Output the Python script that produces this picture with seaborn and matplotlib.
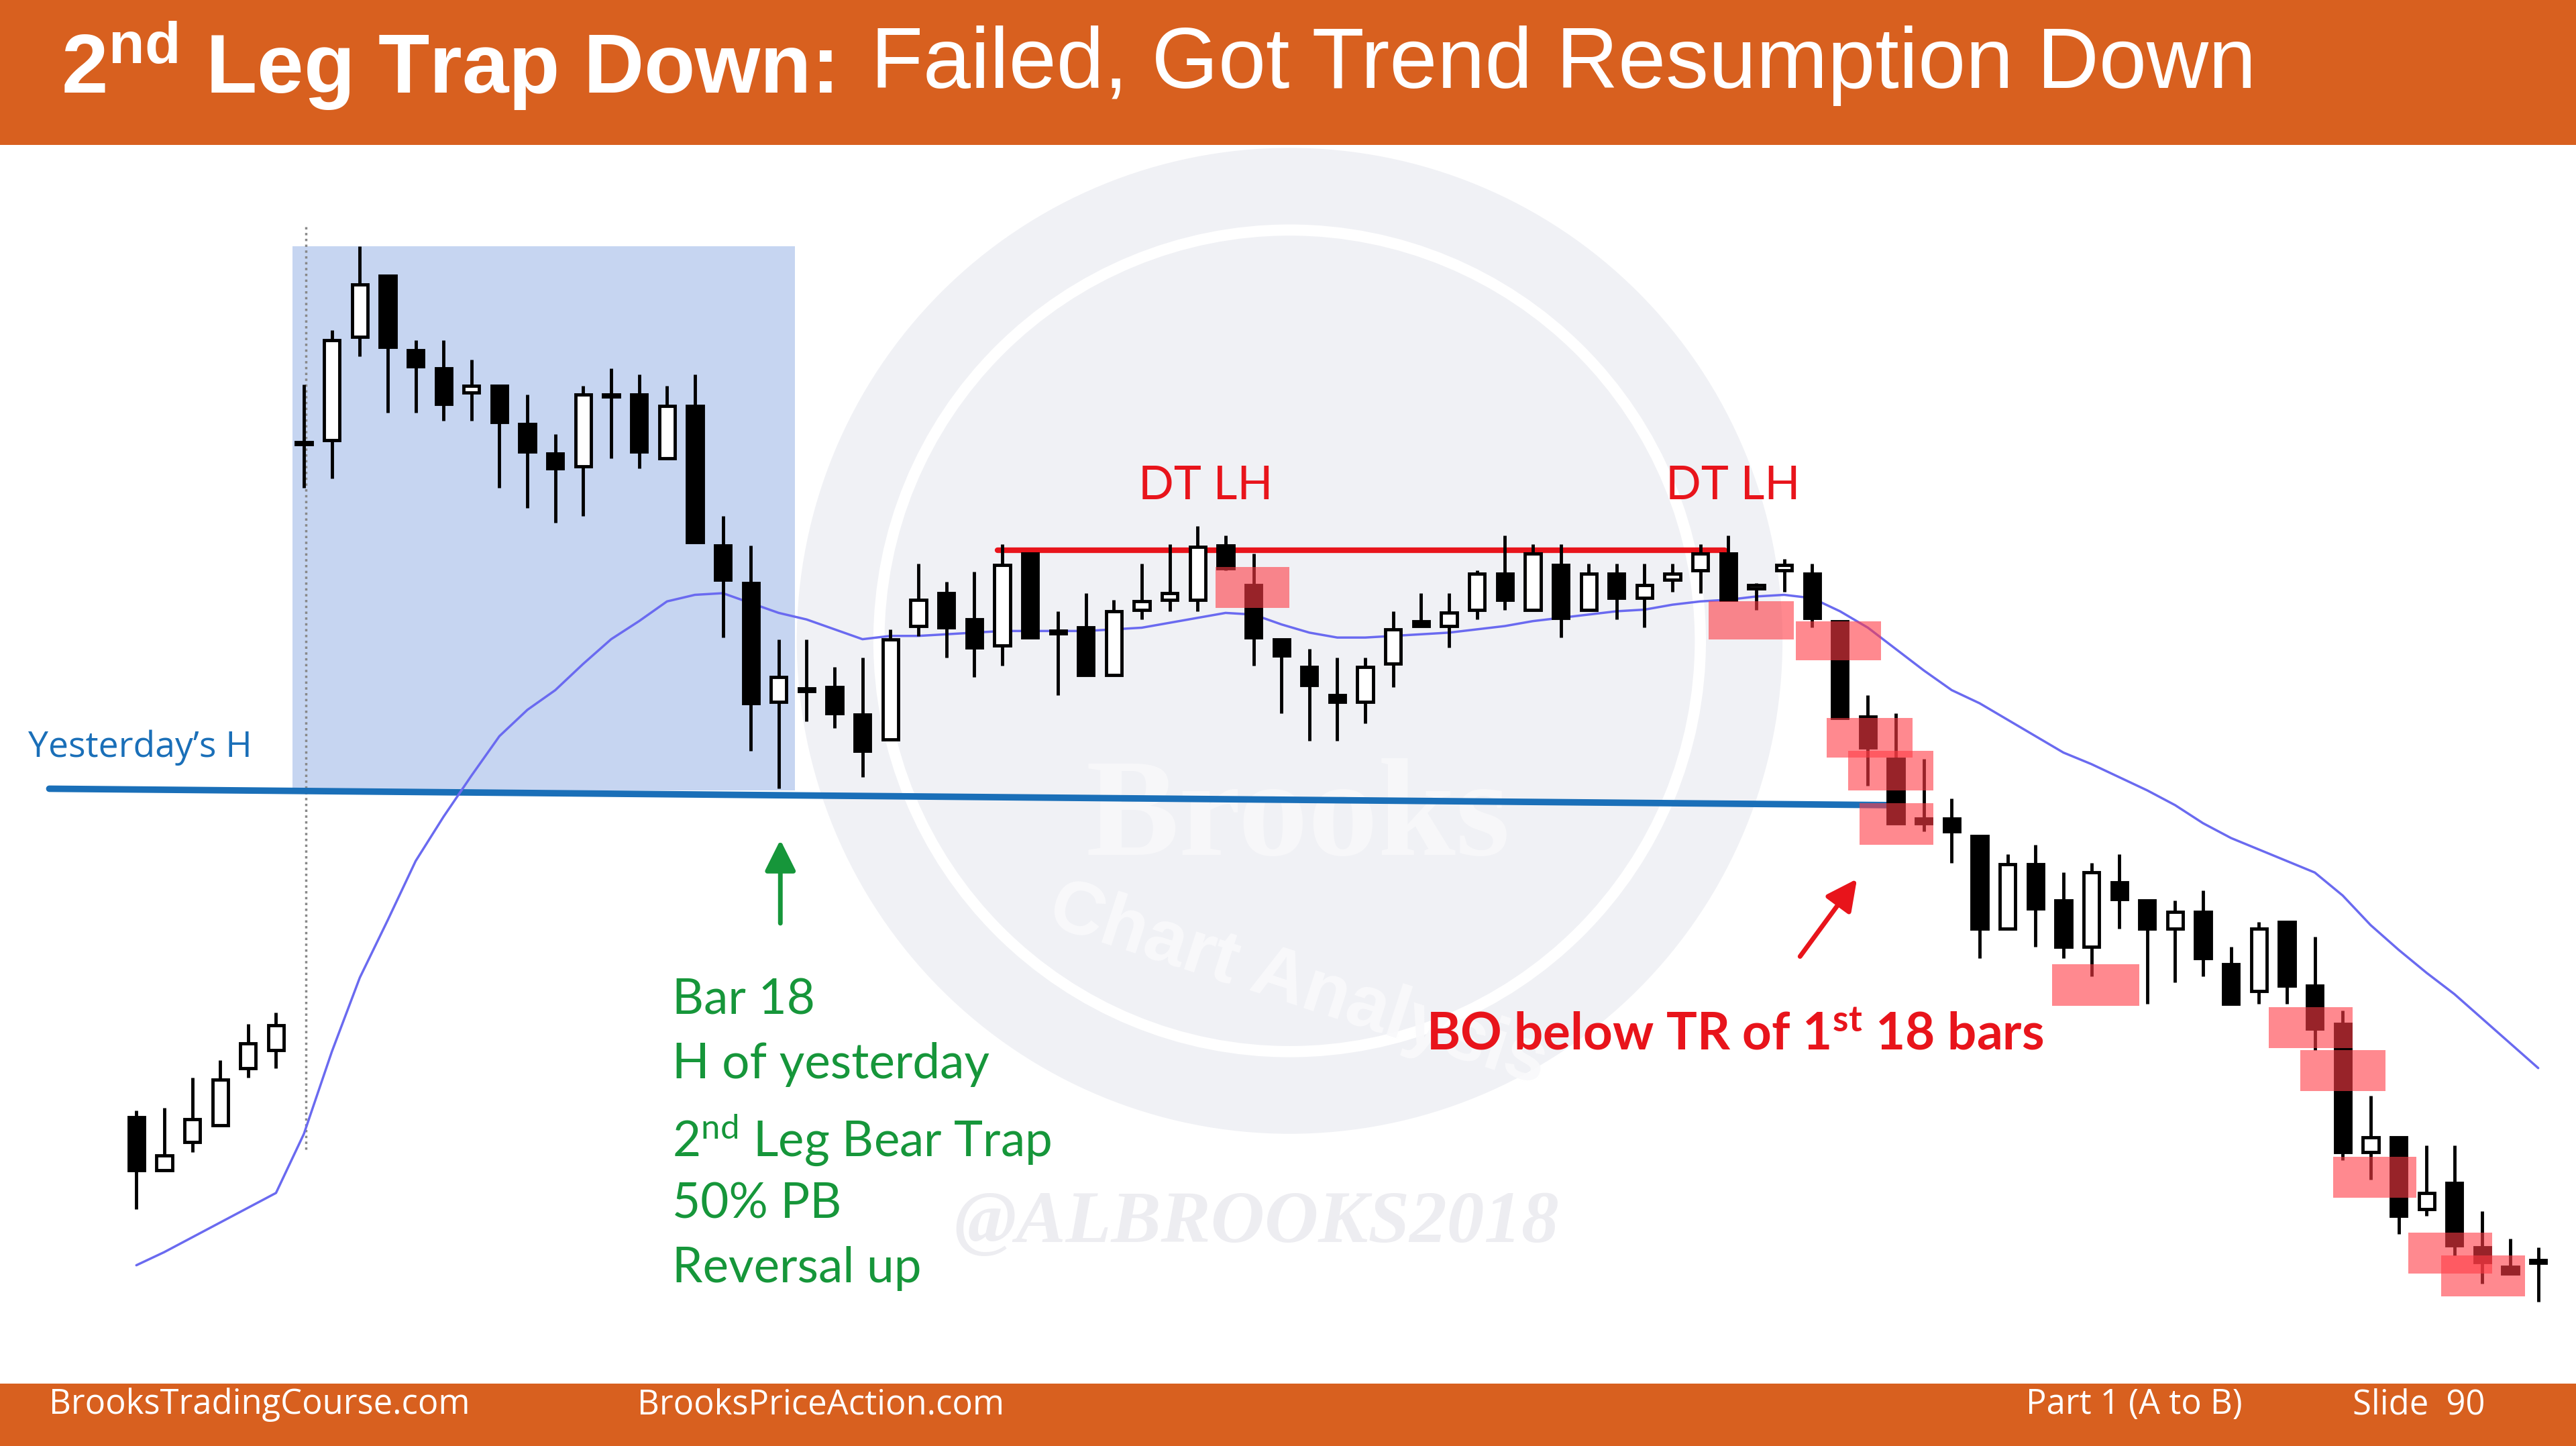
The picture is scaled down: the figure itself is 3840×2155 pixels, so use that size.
import numpy as np
import pandas as pd
import matplotlib
matplotlib.use("Agg")
import matplotlib.pyplot as plt
from matplotlib.patches import Rectangle, Circle, FancyArrowPatch
import seaborn as sns

sns.set_theme(style="white")
plt.rcParams['font.family'] = ['Liberation Sans', 'DejaVu Sans']
plt.rcParams['mathtext.fontset'] = 'custom'
plt.rcParams['mathtext.rm'] = 'Lato'
plt.rcParams['mathtext.bf'] = 'Liberation Sans:bold'
plt.rcParams['mathtext.it'] = 'Lato:bold'

# ---- data (price in chart units, axis inverted: smaller = higher) ----
bar_index = list(range(-6, 81))
opens = [680, 712, 695, 685, 650, 639,
         269, 268, 205, 168, 213, 224, 239, 235, 258, 276, 284, 240, 240, 279, 247, 332, 355, 427,
         419, 418, 435, 450, 381, 361, 377, 393, 337, 384, 382, 411, 371, 365, 365, 332, 356, 389, 406, 423,
         427, 404, 378, 381, 371, 349, 371, 344, 371, 349, 364, 353, 347, 337, 358, 347, 349, 378, 436, 462,
         498, 498, 509, 565, 526, 548, 576, 537, 548, 565, 555, 587, 603, 561, 600, 623, 701, 692, 736, 720,
         759, 771, 767]
closes = [712, 703, 681, 657, 635, 624,
          269, 207, 173, 211, 223, 246, 235, 257, 275, 285, 240, 240, 275, 247, 330, 353, 428, 412,
          419, 434, 457, 389, 365, 382, 394, 344, 388, 384, 411, 372, 366, 361, 333, 346, 388, 399, 417, 427,
          406, 383, 381, 373, 349, 365, 337, 376, 349, 364, 356, 349, 337, 365, 356, 344, 376, 437, 455, 501,
          501, 506, 565, 526, 553, 576, 531, 547, 565, 555, 583, 611, 565, 600, 626, 701, 692, 740, 726, 758,
          768, 775, 767]
highs = [676, 674, 656, 645, 623, 616,
         234, 201, 150, 168, 207, 207, 219, 235, 240, 264, 235, 224, 228, 235, 228, 314, 332, 389,
         389, 406, 400, 383, 343, 354, 348, 331, 337, 372, 361, 365, 343, 331, 320, 326, 337, 389, 395, 400,
         400, 372, 361, 361, 347, 326, 331, 331, 343, 343, 343, 343, 331, 326, 355, 340, 343, 378, 423, 434,
         462, 486, 509, 520, 514, 531, 525, 520, 548, 548, 542, 576, 561, 561, 570, 615, 667, 692, 697, 697,
         737, 754, 759]
lows = [736, 712, 701, 685, 656, 650,
        297, 291, 217, 251, 251, 256, 256, 297, 309, 318, 314, 279, 285, 279, 330, 388, 457, 480,
        439, 443, 473, 450, 387, 400, 412, 405, 388, 423, 411, 411, 377, 372, 372, 347, 405, 434, 451, 451,
        440, 418, 381, 394, 377, 371, 371, 388, 371, 377, 382, 360, 361, 365, 371, 360, 382, 437, 478, 501,
        506, 525, 583, 565, 576, 583, 594, 565, 611, 598, 594, 611, 611, 611, 639, 706, 718, 751, 740, 764,
        781, 775, 792]
ema = [770, 762, 753, 744, 735, 726,
       690, 640, 595, 560, 524, 497, 472, 448, 432, 420, 404, 389, 378, 366, 362, 361, 367, 373,
       377, 383, 389, 387, 387, 386, 385, 384, 384, 384, 384, 383, 382, 379, 376, 373, 374, 380, 385, 388,
       388, 387, 386, 385, 383, 381, 378, 376, 374, 372, 371, 368, 366, 365, 363, 362, 364, 372, 382, 395,
       408, 420, 428, 438, 448, 458, 465, 473, 481, 490, 501, 510, 517, 524, 531, 545, 563, 578, 592, 605,
       620, 635, 650]

# annotation boxes (x0, x1, y0, y1) in chart units
red_boxes = [(740, 785, 345, 370), (1040, 1092, 366, 389), (1093, 1145, 378, 402),
             (1112, 1164, 437, 461), (1125, 1177, 457, 481), (1132, 1177, 489, 514),
             (1249, 1302, 587, 612), (1381, 1432, 613, 638), (1400, 1452, 639, 664),
             (1420, 1471, 704, 729), (1466, 1517, 750, 775), (1486, 1537, 764, 789)]

green_lines = ["Bar 18", "H of yesterday", r"2$^{\mathrm{nd}}$ Leg Bear Trap", "50% PB", "Reversal up"]

# ---- figure ----
fig = plt.figure(figsize=(38.4, 21.55), dpi=100)
ax = fig.add_axes([0, 0, 1, 1])
ax.set_xlim(0, 1568)
ax.set_ylim(880, 0)
ax.axis('off')

X0, DX = 185, 17.0
df = pd.DataFrame({"i": bar_index, "o": opens, "c": closes, "h": highs, "l": lows, "ema": ema})
df["x"] = X0 + DX * df["i"]

# watermark
ax.add_patch(Circle((785, 390), 300, facecolor='#f0f1f5', edgecolor='none', zorder=0))
ax.add_patch(Circle((785, 390), 250, facecolor='none', edgecolor='white', lw=12, zorder=0.5))
ax.text(790, 500, "Brooks", fontsize=150, color='#f7f7f9', fontweight='bold', ha='center', va='center',
        zorder=0.6, family='Liberation Serif')
ax.text(790, 600, "Chart Analysis", fontsize=80, color='#f9f9fb', fontweight='bold', ha='center',
        va='center', rotation=-18, zorder=0.6)
ax.text(765, 745, "@ALBROOKS2018", fontsize=80, color='#ededf1', fontweight='bold', style='italic',
        ha='center', va='center', family='Liberation Serif', zorder=0.6)

# blue shaded range
ax.add_patch(Rectangle((178, 150), 306, 331, facecolor='#c6d5f1', edgecolor='none', zorder=1))
ax.vlines(186, 138, 700, colors='#888888', linestyles=(0, (1, 1.5)), lw=2.5, zorder=1.5)

# yesterday's high line
ax.plot([30, 1152], [480, 490], color='#1a6fb8', lw=7, zorder=2)
ax.text(17, 455, "Yesterday\u2019s H", color='#1a6fb8', fontsize=38.5, va='center', family='Open Sans')

# red DT line
ax.plot([607, 1050], [335, 335], color='#e8141b', lw=6, zorder=2)
ax.text(734, 296, "DT LH", color='#e8141b', fontsize=50, ha='center', va='center', family='Lato')
ax.text(1055, 296, "DT LH", color='#e8141b', fontsize=50, ha='center', va='center', family='Lato')

# EMA
sns.lineplot(data=df, x="x", y="ema", ax=ax, color='#6a6af0', lw=2.5, zorder=2.5, legend=False)
ax.set_xlim(0, 1568); ax.set_ylim(880, 0); ax.axis('off')

# candles
ax.vlines(df["x"], df["h"], df["l"], colors='black', lw=3.5, zorder=3)
bull = df["c"] < df["o"]
body_w = 9.5
colors = np.where(bull, 'white', 'black')
ax.bar(df["x"], (df["c"] - df["o"]).abs().clip(lower=1.5), bottom=np.minimum(df["o"], df["c"]),
       width=body_w, color=colors, edgecolor='black', linewidth=3.5, zorder=4)

# red boxes
for x0, x1, y0, y1 in red_boxes:
    ax.add_patch(Rectangle((x0, y0), x1 - x0, y1 - y0, facecolor='#ff3b45', alpha=0.6,
                           edgecolor='none', zorder=5))

# arrows
ax.add_patch(FancyArrowPatch((475, 563), (475, 510), arrowstyle='-|>,head_length=14,head_width=7',
                             color='#16963a', lw=5, mutation_scale=2, zorder=6))
ax.add_patch(FancyArrowPatch((1095, 583), (1131, 534), arrowstyle='-|>,head_length=14,head_width=7',
                             color='#e8141b', lw=5, mutation_scale=2, zorder=6))

# green text
for s, y in zip(green_lines, [609, 648, 694, 733, 772]):
    ax.text(409, y, s, color='#16963a', fontsize=52.5, va='center', family='Lato')

ax.text(868, 630, r"BO below TR of 1$^{\mathit{st}}$ 18 bars", color='#e8141b', fontsize=55,
        fontweight='bold', va='center', family='Lato')

# header
ax.add_patch(Rectangle((0, 0), 1568, 88, facecolor='#d8601f', edgecolor='none', zorder=7))
ax.text(37, 40, r"2$^{\mathbf{nd}}$ Leg Trap Down:", color='white', fontsize=90, fontweight='bold',
        va='center', zorder=8)
ax.text(530, 40, "Failed, Got Trend Resumption Down", color='white', fontsize=92, va='center', zorder=8)

# footer
ax.add_patch(Rectangle((0, 842), 1568, 38, facecolor='#d8601f', edgecolor='none', zorder=7))
for s, x in [("BrooksTradingCourse.com", 30), ("BrooksPriceAction.com", 388),
             ("Part 1 (A to B)", 1233), ("Slide  90", 1432)]:
    ax.text(x, 855, s, color='white', fontsize=36.5, va='center', family='Open Sans', zorder=8)

fig.savefig("out.png", dpi=100)
